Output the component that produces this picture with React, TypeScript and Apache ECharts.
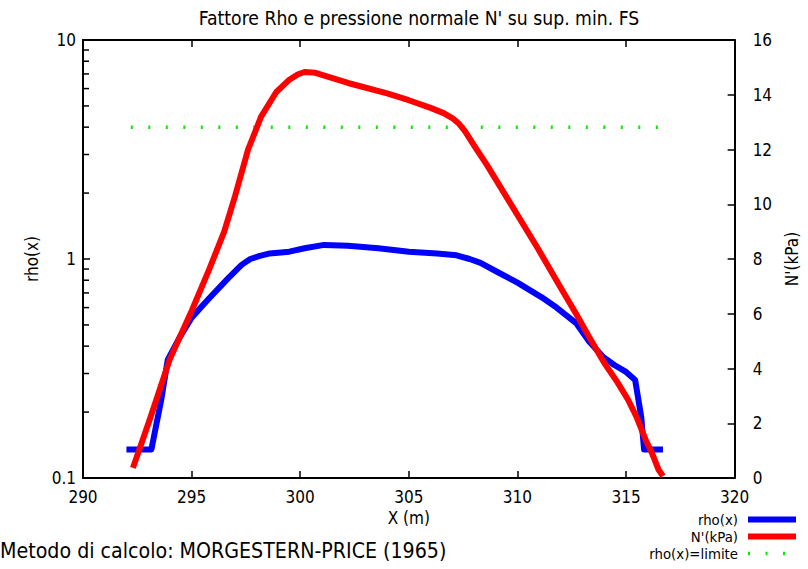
import React, { useEffect, useRef } from "react";
import * as echarts from "echarts";

const FONT = "'DejaVu Sans Condensed', 'DejaVu Sans', sans-serif";

const titleText = "Fattore Rho e pressione normale N' su sup. min. FS";
const methodText = "Metodo di calcolo: MORGESTERN-PRICE (1965)";
const legendNames = ["rho(x)", "N'(kPa)", "rho(x)=limite"];
const legendColors = ["#0000ff", "#ff0000", "#00ee00"];

const rhoX = [292.0, 293.15, 293.6, 293.9, 294.4, 295.0, 295.8, 296.7, 297.3, 297.7, 298.1, 298.6, 299.5, 300.2, 301.1, 302.2, 303.6, 305.0, 306.3, 307.2, 307.8, 308.3, 309.1, 310.0, 311.1, 311.8, 312.7, 313.3, 313.96, 314.46, 315.0, 315.42, 315.7, 315.83, 316.7];
const rhoVal = [0.135, 0.135, 0.227, 0.346, 0.43, 0.54, 0.66, 0.82, 0.94, 1.0, 1.03, 1.06, 1.08, 1.12, 1.16, 1.15, 1.12, 1.08, 1.06, 1.04, 1.0, 0.96, 0.87, 0.78, 0.67, 0.6, 0.51, 0.42, 0.356, 0.328, 0.305, 0.28, 0.19, 0.135, 0.135];

const nX = [292.3, 293.1, 294.0, 295.0, 295.8, 296.5, 297.0, 297.6, 298.2, 298.9, 299.5, 299.9, 300.2, 300.7, 302.2, 304.0, 305.0, 306.0, 306.6, 307.0, 307.3, 307.6, 308.0, 308.6, 309.5, 310.9, 312.0, 312.7, 313.3, 314.0, 314.6, 315.1, 315.5, 315.9, 316.2, 316.5, 316.7];
const nVal = [0.37, 2.2, 4.35, 6.1, 7.6, 9.0, 10.3, 12.0, 13.2, 14.1, 14.55, 14.75, 14.83, 14.8, 14.43, 14.05, 13.8, 13.52, 13.33, 13.15, 12.95, 12.65, 12.15, 11.43, 10.26, 8.44, 6.94, 6.0, 5.15, 4.2, 3.5, 2.85, 2.2, 1.4, 0.9, 0.3, 0.07];

const limitX = [292.2, 316.5];
const limitVal = [4, 4];

const minorTicks = [0.2, 0.3, 0.4, 0.5, 0.6, 0.7, 0.8, 0.9, 2, 3, 4, 5, 6, 7, 8, 9];

const X_MIN = 290, X_MAX = 320, X_INT = 5;
const N_MIN = 0, N_MAX = 16, N_INT = 2;

export default function App() {
  const ref = useRef<HTMLDivElement>(null);
  useEffect(() => {
    if (!ref.current) return;
    const chart = echarts.init(ref.current, null, { renderer: "svg" });
    const axisLine = { show: true, onZero: false, lineStyle: { color: "#000", width: 2 } };
    const axisTick = { show: true, inside: true, length: 7, lineStyle: { color: "#000", width: 1.5 } };
    const axisLabel = { color: "#000", fontSize: 17, fontFamily: FONT };
    const nameStyle = { color: "#000", fontSize: 17, fontFamily: FONT };

    const legendGraphics: any[] = [];
    legendNames.forEach((name, i) => {
      const cy = 519.5 + i * 17;
      legendGraphics.push({
        type: "text", x: 738, y: cy,
        style: { text: name, fill: "#000", fontSize: 14.8, lineHeight: 15, fontFamily: FONT, textAlign: "right", textVerticalAlign: "middle" },
      });
      legendGraphics.push({
        type: "line",
        shape: { x1: 748, y1: cy, x2: 796, y2: cy },
        style: i === 2
          ? { stroke: legendColors[i], lineWidth: 3.5, lineDash: [2, 15.5] }
          : { stroke: legendColors[i], lineWidth: 6 },
      });
    });

    chart.setOption({
      animation: false,
      backgroundColor: "#fff",
      grid: { left: 83, right: 69, top: 40, bottom: 91, show: false },
      xAxis: [
        {
          type: "value", min: X_MIN, max: X_MAX, interval: X_INT, position: "bottom",
          axisLine, axisTick, axisLabel: { ...axisLabel, margin: 10 }, splitLine: { show: false },
          name: "X (m)", nameLocation: "middle", nameGap: 21, nameTextStyle: nameStyle,
        },
        {
          type: "value", min: X_MIN, max: X_MAX, interval: X_INT, position: "top",
          axisLine, axisTick, axisLabel: { show: false }, splitLine: { show: false },
        },
      ],
      yAxis: [
        {
          type: "log", logBase: 10, min: 0.1, max: 10, position: "left",
          axisLine, axisTick, axisLabel: { ...axisLabel, margin: 7 }, splitLine: { show: false },
          minorTick: { show: false },
          name: "rho(x)", nameLocation: "middle", nameGap: 37, nameRotate: 90, nameTextStyle: nameStyle,
        },
        {
          type: "value", min: N_MIN, max: N_MAX, interval: N_INT, position: "right",
          axisLine, axisTick, axisLabel: { ...axisLabel, margin: 18 }, splitLine: { show: false },
          name: "N'(kPa)", nameLocation: "middle", nameGap: 41, nameRotate: 90, nameTextStyle: nameStyle,
        },
      ],
      graphic: [
        {
          type: "text", x: 419, y: 18,
          style: { text: titleText, fill: "#000", fontSize: 19.2, fontFamily: FONT, textAlign: "center", textVerticalAlign: "middle" },
        },
        {
          type: "text", x: 0, y: 550,
          style: { text: methodText, fill: "#000", fontSize: 21.2, fontFamily: FONT, textAlign: "left", textVerticalAlign: "middle" },
        },
        ...legendGraphics,
      ],
      series: [
        {
          name: legendNames[0], type: "line", xAxisIndex: 0, yAxisIndex: 0, symbol: "none",
          data: rhoX.map((x, i) => [x, rhoVal[i]]),
          lineStyle: { color: legendColors[0], width: 6, join: "round" },
          z: 3,
        },
        {
          name: legendNames[1], type: "line", xAxisIndex: 0, yAxisIndex: 1, symbol: "none",
          data: nX.map((x, i) => [x, nVal[i]]),
          lineStyle: { color: legendColors[1], width: 6, join: "round" },
          z: 4,
        },
        {
          name: legendNames[2], type: "line", xAxisIndex: 0, yAxisIndex: 0, symbol: "none",
          data: limitX.map((x, i) => [x, limitVal[i]]),
          lineStyle: { color: legendColors[2], width: 3.5, type: [2, 15.5] },
          z: 2,
        },
        {
          type: "custom", xAxisIndex: 0, yAxisIndex: 0, silent: true,
          data: minorTicks.map((v) => [X_MIN, v]),
          renderItem: (params: any, api: any) => {
            const p = api.coord([api.value(0), api.value(1)]);
            return {
              type: "line",
              shape: { x1: p[0], y1: p[1], x2: p[0] + 6, y2: p[1] },
              style: { stroke: "#000", lineWidth: 1.5 },
            };
          },
          z: 5,
        },
      ],
    });
    return () => chart.dispose();
  }, []);
  return <div ref={ref} style={{ position: "fixed", left: 0, top: 0, width: 808, height: 569 }} />;
}
